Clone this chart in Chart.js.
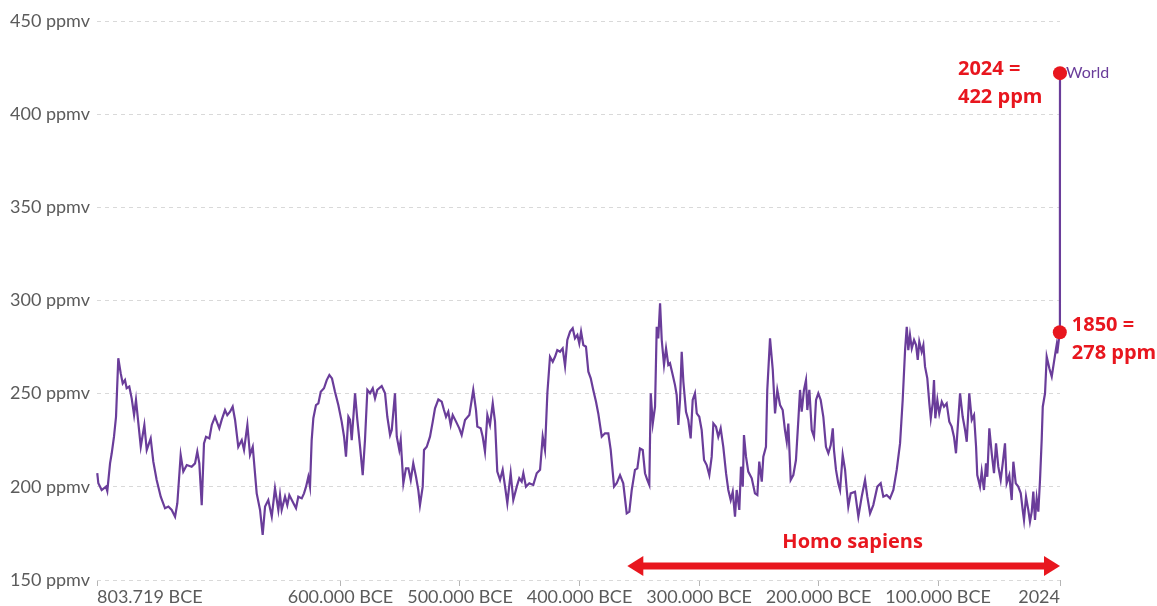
<!DOCTYPE html>
<html>
<head>
<meta charset="utf-8">
<title>CO2 concentration</title>
<script src="https://cdn.jsdelivr.net/npm/chart.js@4"></script>
<style>
  html, body { margin: 0; padding: 0; background: #fff; }
  #wrap { width: 1157px; height: 606px; }
</style>
</head>
<body>
<div id="wrap"><canvas id="myChart"></canvas></div>
<script>
// ice core record, time in thousand years (negative = BCE)
const iceKyr = [
  -803.5, -802.6, -799.8, -796.2, -795.1, -792.8, -791.4, -789.5, -787.8, -785.9,
  -783.9, -782.2, -780.3, -778.9, -776.7, -774.7, -772.7, -771.1, -769.1, -767.1,
  -764.1, -762.1, -758.8, -756.6, -753.8, -750.4, -746.8, -744.0, -741.2, -738.4,
  -736.5, -733.7, -731.5, -728.6, -724.5, -721.7, -719.8, -718.1, -716.1, -714.2,
  -712.5, -709.7, -707.7, -705.0, -701.4, -699.4, -696.6, -694.7, -692.4, -690.2,
  -688.2, -685.5, -682.6, -680.7, -677.9, -675.7, -673.4, -670.1, -667.3, -665.1,
  -663.1, -660.4, -657.5, -654.8, -652.0, -650.6, -649.2, -646.4, -644.5, -642.8,
  -640.0, -637.2, -635.3, -632.4, -630.5, -628.8, -626.9, -625.5, -624.1, -622.7,
  -620.5, -618.5, -616.5, -613.8, -611.5, -609.3, -607.1, -604.6, -601.8, -599.0,
  -597.0, -595.4, -593.4, -592.0, -590.6, -587.8, -585.9, -583.6, -581.4, -579.5,
  -577.5, -575.3, -573.0, -571.1, -569.2, -565.5, -562.7, -560.8, -558.5, -557.1,
  -554.4, -552.9, -550.8, -549.6, -547.4, -545.2, -543.2, -541.2, -539.1, -536.8,
  -534.9, -533.5, -531.2, -530.1, -527.8, -525.1, -522.8, -520.9, -518.1, -515.3,
  -513.4, -511.7, -509.8, -507.8, -506.1, -503.3, -500.6, -498.6, -495.8, -492.2,
  -490.2, -488.9, -486.6, -485.5, -482.7, -481.0, -479.1, -477.1, -474.9, -472.6,
  -470.7, -468.8, -466.5, -464.3, -462.3, -460.4, -457.6, -455.4, -452.5, -450.4,
  -448.4, -447.0, -444.8, -442.0, -438.7, -435.8, -433.0, -430.8, -428.9, -426.9,
  -424.7, -422.4, -420.5, -418.6, -416.3, -414.1, -412.1, -410.2, -407.9, -405.7,
  -403.8, -401.8, -400.2, -398.7, -396.8, -394.6, -392.6, -390.6, -388.5, -386.2,
  -384.3, -381.4, -378.7, -375.9, -373.9, -371.1, -368.9, -366.1, -363.4, -360.5,
  -358.3, -356.3, -353.6, -351.6, -349.4, -347.1, -345.2, -343.3, -341.6, -340.4,
  -338.7, -336.8, -335.4, -334.1, -332.6, -331.2, -329.3, -327.6, -325.7, -324.3,
  -322.0, -320.1, -318.7, -317.3, -315.9, -314.5, -313.1, -310.9, -309.0, -307.0,
  -305.3, -303.4, -301.9, -299.8, -297.8, -295.8, -293.6, -291.4, -289.4, -288.0,
  -285.8, -283.9, -281.9, -279.7, -277.4, -275.5, -273.5, -271.8, -269.9, -268.5,
  -266.3, -264.9, -263.4, -262.4, -260.7, -258.8, -255.9, -253.2, -251.2, -249.6,
  -247.5, -246.2, -244.0, -242.9, -240.6, -238.3, -236.4, -234.5, -232.2, -230.0,
  -228.1, -226.6, -225.3, -223.3, -221.1, -218.9, -216.9, -215.5, -214.1, -212.2,
  -210.5, -209.4, -207.7, -205.7, -203.8, -202.1, -200.2, -198.2, -196.0, -193.8,
  -191.8, -189.8, -188.1, -187.1, -185.4, -183.5, -182.0, -179.8, -177.8, -176.4,
  -175.1, -173.1, -169.5, -166.7, -163.9, -161.1, -159.2, -156.9, -154.2, -150.8,
  -148.0, -145.8, -143.0, -140.2, -137.4, -134.6, -131.8, -129.6, -127.6, -126.2,
  -124.9, -123.5, -122.0, -120.1, -118.4, -117.0, -115.7, -113.7, -112.3, -110.9,
  -109.0, -107.3, -106.1, -104.5, -103.4, -102.3, -100.6, -99.0, -96.9, -95.0,
  -92.8, -90.6, -88.6, -86.7, -85.0, -83.9, -81.6, -79.4, -77.4, -76.0,
  -73.9, -71.8, -69.9, -68.2, -67.2, -64.9, -63.5, -61.6, -59.9, -58.8,
  -57.1, -55.1, -53.2, -51.5, -49.6, -47.6, -45.9, -44.0, -42.6, -40.4,
  -38.4, -37.0, -35.0, -32.9, -30.8, -29.2, -28.1, -26.4, -24.5, -23.1,
  -21.6, -20.3, -18.9, -17.5, -16.1, -14.7, -13.3, -12.4, -10.5, -9.1,
  -6.9, -4.9, -3.0, -1.5, -0.8, -0.3
];
const icePpm = [
  207.3, 201.9, 198.3, 200.1, 197.7, 212.6, 218, 226.9, 237.6, 269,
  261, 255.5, 257.3, 252.9, 253.8, 247.5, 238.5, 246.6, 234, 221.5,
  233.2, 219.8, 226, 213.5, 203.7, 194.7, 188.5, 189.4, 187.6, 184,
  191.2, 217.1, 208.2, 211.7, 210.8, 212.6, 218.9, 212.6, 190.2, 223.3,
  226.9, 226, 233.2, 237.6, 231.4, 235.9, 241.2, 238.5, 240.3, 243,
  235.9, 221.5, 225.1, 219.8, 233.2, 217.1, 221.5, 196.5, 187.6, 174.2,
  189.4, 192.9, 184, 199.2, 187.6, 195.6, 187.6, 194.7, 190.2, 195.6,
  192, 188.5, 194.7, 193.8, 196.5, 200.1, 205.4, 200.1, 225.1, 236.8,
  243.9, 244.8, 251, 252.9, 257.3, 260, 258.2, 251, 243.9, 235,
  226.9, 216.2, 237.6, 235.9, 225.1, 250.2, 235.9, 221.5, 206.3, 225.1,
  252, 250.2, 252.9, 247.5, 252, 254.1, 250.2, 237.6, 227.8, 230.5,
  250.2, 226.9, 219.8, 225.1, 201.9, 209.9, 209.9, 203.7, 212.6, 205.4,
  198.3, 190.2, 200.1, 219.8, 221.5, 226.9, 235, 242.1, 246.9, 245.7,
  241.2, 237.6, 240.3, 233.2, 238.5, 235, 231.4, 227.8, 235.9, 238.5,
  246.6, 252, 241.2, 232.3, 231.4, 226.9, 218.9, 238.5, 233.2, 244.8,
  235, 208.2, 203.7, 209.1, 200.1, 191.2, 207.3, 192.9, 200.1, 204.6,
  202.8, 207.3, 200.1, 201.9, 201, 207.3, 209.1, 226.9, 219.8, 250.2,
  269.8, 267.1, 269.8, 273.4, 272.5, 274.3, 264.8, 278.8, 283.3, 285.1,
  279.7, 281.5, 277, 283.3, 276.1, 275.2, 261.8, 258.2, 252, 245.7,
  239.4, 226.9, 228.7, 228.7, 219.8, 200.1, 201.9, 206.3, 201.9, 185.8,
  186.7, 198.3, 209.1, 209.9, 220.6, 219.8, 207.3, 203.7, 201, 250.2,
  234, 243, 285.9, 279.7, 298.5, 278.8, 265.4, 274.3, 265.4, 266.3,
  260, 254.6, 249.3, 233.2, 246.6, 272.5, 256.4, 240.3, 235.9, 226,
  246.6, 250.2, 239.4, 237.6, 230.5, 214.4, 211.7, 206.3, 216.2, 234,
  232.3, 226.9, 231.4, 221.5, 207.3, 198.3, 192.9, 197.4, 184, 198.3,
  187.6, 210.8, 200.1, 227.8, 216.2, 208.2, 204.6, 196.5, 195.6, 213.5,
  202.8, 216.2, 221.5, 252, 279.7, 262.7, 239.4, 252, 243.9, 241.2,
  230.5, 224.2, 234, 203.7, 206.3, 214.4, 235.9, 252, 240.3, 252,
  257.3, 241.2, 252, 230.5, 226.9, 246.6, 250.2, 246.6, 237.6, 221.5,
  218, 222.4, 231.4, 219.8, 209.1, 201.9, 198.3, 217.1, 209.1, 198.3,
  189.4, 196.5, 197.4, 184, 194.7, 203.7, 194.7, 185.8, 190.2, 200.1,
  201.9, 194.7, 195.6, 193.8, 198.3, 209.1, 223.3, 246.6, 273.4, 285.9,
  273.4, 281.5, 274.3, 278.8, 276.1, 268.1, 277.9, 272.5, 276.1, 264.5,
  258.2, 244.8, 236.8, 244.8, 257.3, 236.8, 246.6, 239.4, 245.7, 243,
  244.8, 235, 232.3, 226.9, 218, 228.7, 250.2, 237.6, 230.5, 224.2,
  250.2, 235.9, 238.5, 221.5, 206.3, 200.1, 208.2, 198.3, 212.6, 205.4,
  231.4, 218, 207.3, 223.3, 210.8, 203.7, 212.6, 223.3, 201.9, 206.3,
  192.9, 213.5, 201.9, 200.1, 196.5, 187.6, 182.2, 194.7, 187.6, 181.3,
  186.7, 197.4, 182.2, 193.8, 186.7, 203.7, 225.1, 243, 250.2, 269.8,
  263.6, 259.1, 267.1, 273.4, 276.1, 271.6
];
// instrumental era
const modernYears = [1850, 1900, 1950, 1980, 2000, 2024];
const modernPpm = [283, 296, 311, 339, 369, 422];

// highlighted points
const markerYears = [1850, 2024];
const markerPpm = [283, 422];
const markerText = [['1850 =', '278 ppm'], ['2024 =', '422 ppm']];

// Homo sapiens span
const sapiensSpan = [-360000, 2024];

const xTicks = [-803719, -600000, -500000, -400000, -300000, -200000, -100000, 2024];
const yTicks = [150, 200, 250, 300, 350, 400, 450];

const lineColor = '#6a3d9a';
const red = '#e8161e';

const points = [];
for (let i = 0; i < iceKyr.length; i++) {
  points.push({ x: iceKyr[i] * 1000, y: icePpm[i] });
}
for (let i = 0; i < modernYears.length; i++) {
  points.push({ x: modernYears[i], y: modernPpm[i] });
}
const markers = markerYears.map((v, i) => ({ x: v, y: markerPpm[i] }));

function yearLabel(v) {
  if (v < 0) {
    return String(Math.abs(v)).replace(/\B(?=(\d{3})+(?!\d))/g, '.') + ' BCE';
  }
  return String(v);
}

const notes = {
  id: 'notes',
  afterDatasetsDraw(chart) {
    const ctx = chart.ctx;
    const x = chart.scales.x;
    const y = chart.scales.y;
    ctx.save();

    // series name
    ctx.font = '16px Lato';
    ctx.fillStyle = lineColor;
    ctx.textAlign = 'left';
    ctx.textBaseline = 'middle';
    ctx.fillText('World', x.getPixelForValue(2024) + 6, y.getPixelForValue(422));

    // red labels
    ctx.font = 'bold 20px "Open Sans"';
    ctx.fillStyle = red;
    const p0x = x.getPixelForValue(markerYears[0]);
    const p0y = y.getPixelForValue(markerPpm[0]);
    ctx.fillText(markerText[0][0], p0x + 12, p0y - 7);
    ctx.fillText(markerText[0][1], p0x + 12, p0y + 21);
    const p1x = x.getPixelForValue(markerYears[1]);
    const p1y = y.getPixelForValue(markerPpm[1]);
    ctx.fillText(markerText[1][0], p1x - 102, p1y - 4);
    ctx.fillText(markerText[1][1], p1x - 102, p1y + 24);

    // arrow
    const ax1 = x.getPixelForValue(sapiensSpan[0]);
    const ax2 = x.getPixelForValue(sapiensSpan[1]);
    const ay = chart.chartArea.bottom - 14;
    ctx.strokeStyle = red;
    ctx.lineWidth = 7;
    ctx.beginPath();
    ctx.moveTo(ax1 + 12, ay);
    ctx.lineTo(ax2 - 12, ay);
    ctx.stroke();
    ctx.beginPath();
    ctx.moveTo(ax1, ay);
    ctx.lineTo(ax1 + 16, ay - 10);
    ctx.lineTo(ax1 + 16, ay + 10);
    ctx.closePath();
    ctx.fill();
    ctx.beginPath();
    ctx.moveTo(ax2, ay);
    ctx.lineTo(ax2 - 16, ay - 10);
    ctx.lineTo(ax2 - 16, ay + 10);
    ctx.closePath();
    ctx.fill();

    ctx.textAlign = 'center';
    ctx.fillText('Homo sapiens', (ax1 + ax2) / 2 + 9, ay - 24);
    ctx.restore();
  }
};

const ctx = document.getElementById('myChart');

new Chart(ctx, {
  type: 'line',
  data: {
    datasets: [{
      label: 'Marker',
      data: markers,
      showLine: false,
      pointRadius: 7,
      pointHoverRadius: 7,
      pointBackgroundColor: red,
      pointBorderWidth: 0,
      clip: false
    }, {
      label: 'World',
      data: points,
      borderColor: lineColor,
      borderWidth: 2.2,
      pointRadius: 0,
      tension: 0,
      clip: false
    }]
  },
  options: {
    responsive: true,
    maintainAspectRatio: false,
    animation: false,
    layout: { padding: { left: 10, right: 97, top: 21, bottom: 0 } },
    plugins: {
      legend: { display: false },
      tooltip: { enabled: false }
    },
    scales: {
      x: {
        type: 'linear',
        min: -803719,
        max: 2024,
        afterBuildTicks: s => { s.ticks = xTicks.map(v => ({ value: v })); },
        afterFit: s => { s.height = 26; },
        grid: {
          drawOnChartArea: false,
          drawTicks: true,
          tickLength: 6,
          color: '#b5b5b5'
        },
        border: { display: false },
        ticks: {
          autoSkip: false,
          maxRotation: 0,
          align: 'inner',
          padding: 0,
          color: '#5b5b5b',
          font: { family: 'Lato', size: 18 },
          callback: v => yearLabel(v)
        }
      },
      y: {
        min: 150,
        max: 450,
        afterBuildTicks: s => { s.ticks = yTicks.map(v => ({ value: v })); },
        afterFit: s => { s.width = 87; },
        grid: { color: '#d9d9d9', drawTicks: false },
        border: { display: false, dash: [4, 4] },
        ticks: {
          crossAlign: 'far',
          padding: 0,
          color: '#5b5b5b',
          font: { family: 'Lato', size: 18 },
          callback: v => v + ' ppmv'
        }
      }
    }
  },
  plugins: [notes]
});
</script>
</body>
</html>
